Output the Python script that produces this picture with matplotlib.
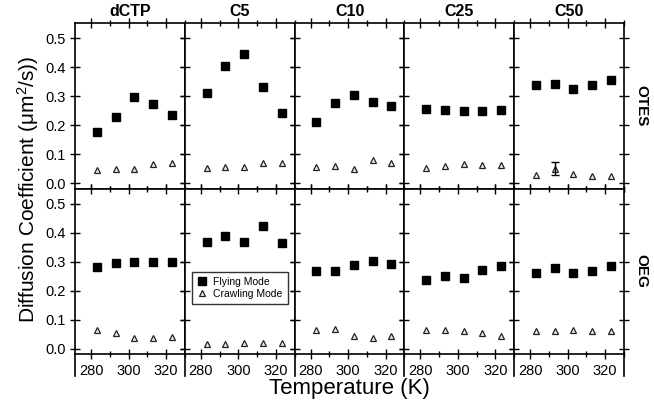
import numpy as np
import matplotlib
matplotlib.use("Agg")
import matplotlib.pyplot as plt
from matplotlib.ticker import MultipleLocator

plt.rcParams['font.family'] = ['Liberation Sans', 'DejaVu Sans']
plt.rcParams['mathtext.fontset'] = 'custom'
plt.rcParams['mathtext.rm'] = 'Liberation Sans'
plt.rcParams['mathtext.default'] = 'regular'

# temperatures (K)
temps = [283, 293, 303, 313, 323]
columns = ["dCTP", "C5", "C10", "C25", "C50"]
rows = ["OTES", "OEG"]

# OTES surface
otes_flying = {
    "dCTP": [0.176, 0.229, 0.298, 0.272, 0.237],
    "C5":   [0.311, 0.406, 0.447, 0.332, 0.243],
    "C10":  [0.213, 0.277, 0.305, 0.279, 0.266],
    "C25":  [0.255, 0.253, 0.249, 0.249, 0.254],
    "C50":  [0.338, 0.343, 0.324, 0.339, 0.357],
}
otes_crawling = {
    "dCTP": [0.045, 0.048, 0.051, 0.066, 0.072],
    "C5":   [0.052, 0.056, 0.058, 0.069, 0.071],
    "C10":  [0.057, 0.060, 0.048, 0.079, 0.071],
    "C25":  [0.054, 0.060, 0.066, 0.063, 0.063],
    "C50":  [0.030, 0.050, 0.034, 0.027, 0.024],
}
# OEG surface
oeg_flying = {
    "dCTP": [0.282, 0.297, 0.299, 0.299, 0.299],
    "C5":   [0.368, 0.389, 0.367, 0.424, 0.364],
    "C10":  [0.267, 0.267, 0.288, 0.302, 0.292],
    "C25":  [0.236, 0.250, 0.244, 0.271, 0.287],
    "C50":  [0.261, 0.279, 0.260, 0.268, 0.287],
}
oeg_crawling = {
    "dCTP": [0.064, 0.053, 0.038, 0.038, 0.040],
    "C5":   [0.016, 0.017, 0.020, 0.020, 0.021],
    "C10":  [0.066, 0.069, 0.044, 0.037, 0.043],
    "C25":  [0.064, 0.064, 0.060, 0.055, 0.044],
    "C50":  [0.060, 0.060, 0.064, 0.062, 0.062],
}
# single error bar shown (C50 / OTES crawling, 293 K)
err_temp = 293
err_val = 0.052
err_size = 0.023

fig, axes = plt.subplots(2, 5, figsize=(6.54, 4.07), dpi=100, sharex=True, sharey=True)
fig.subplots_adjust(left=0.115, right=0.954, top=0.943, bottom=0.130, wspace=0, hspace=0)

data = [(otes_flying, otes_crawling), (oeg_flying, oeg_crawling)]

for r in range(2):
    fly, crawl = data[r]
    for c, name in enumerate(columns):
        ax = axes[r, c]
        ax.plot(temps, fly[name], ls='none', marker='s', ms=5.2, color='black',
                label='Flying Mode')
        ax.plot(temps, crawl[name], ls='none', marker='^', ms=4.6, mfc='#e8e8e8',
                mec='#222222', mew=0.9, label='Crawling Mode')
        if r == 0 and name == "C50":
            ax.errorbar([err_temp], [err_val], yerr=[err_size], fmt='none',
                        ecolor='black', elinewidth=1.0, capsize=3, capthick=1.0)
        ax.set_xlim(271.5, 330)
        ax.set_ylim(-0.018, 0.552)
        ax.xaxis.set_major_locator(MultipleLocator(20))
        ax.xaxis.set_minor_locator(MultipleLocator(10))
        ax.yaxis.set_major_locator(MultipleLocator(0.1))
        ax.yaxis.set_major_formatter(plt.FormatStrFormatter('%.1f'))
        ax.tick_params(which='both', direction='inout', top=True, right=True,
                       labelsize=10.5, width=1.0)
        ax.tick_params(which='major', length=7)
        ax.tick_params(which='minor', length=4)
        for s in ax.spines.values():
            s.set_linewidth(1.2)
        if r == 0:
            ax.set_title(name, fontsize=11.5, fontweight='bold', pad=5)
        if r == 1:
            # separator lines below the axis, between tick label groups
            ax.plot([0, 0], [0, -0.13], transform=ax.transAxes, color='black',
                    lw=1.2, clip_on=False)
            if c == 4:
                ax.plot([1, 1], [0, -0.13], transform=ax.transAxes, color='black',
                        lw=1.2, clip_on=False)
        if c == 4:
            ax.text(1.16, 0.5, rows[r], transform=ax.transAxes, rotation=-90,
                    fontsize=11, fontweight='bold', ha='center', va='center')

leg = axes[1, 1].legend(loc='center', bbox_to_anchor=(0.5, 0.4), fontsize=7.5,
                        frameon=True, fancybox=False, handletextpad=0.6,
                        handlelength=1.0, borderpad=0.5, labelspacing=0.2)
leg.get_frame().set_edgecolor('black')
leg.get_frame().set_linewidth(1.0)

fig.text(0.043, 0.535, r'Diffusion Coefficient ($\mu$m$^2$/s))', rotation=90,
         fontsize=15, ha='center', va='center')
fig.text(0.535, 0.045, 'Temperature (K)', fontsize=16, ha='center', va='center')

fig.savefig('out.png', dpi=100)
